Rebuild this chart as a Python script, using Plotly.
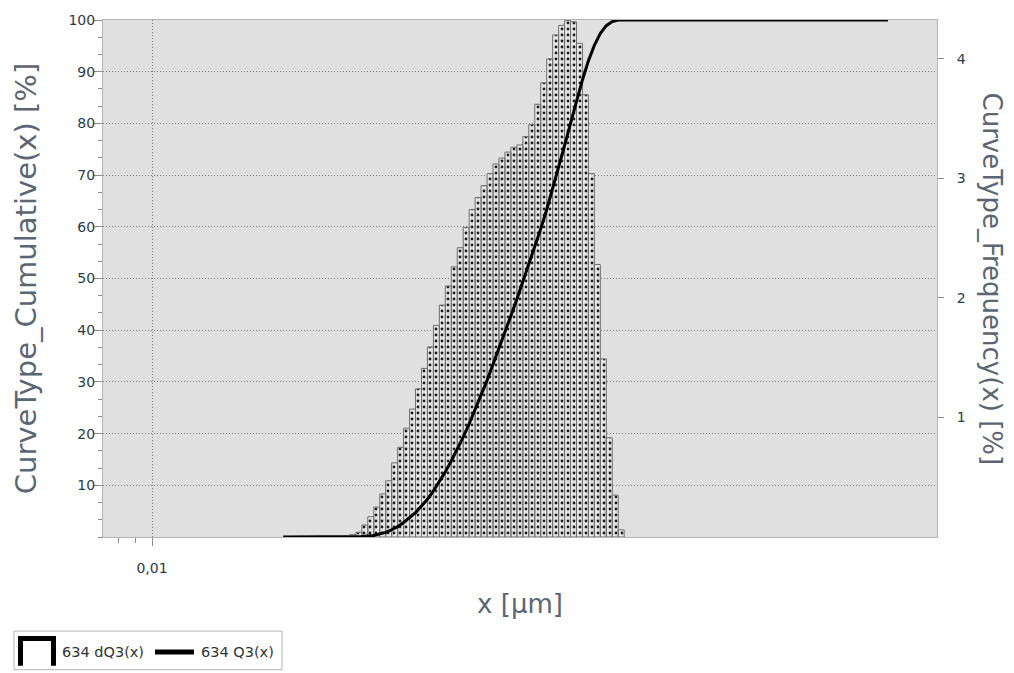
import plotly.graph_objects as go

# ---------------- data ----------------
# size class edges (µm) of the dQ3 histogram
bin_edges_um = [0.03678, 0.03825, 0.03978, 0.04137, 0.04303, 0.04475, 0.04654, 0.04840,
                0.05034, 0.05235, 0.05444, 0.05662, 0.05889, 0.06124, 0.06369, 0.06624,
                0.06889, 0.07165, 0.07451, 0.07749, 0.08059, 0.08382, 0.08717, 0.09065,
                0.09428, 0.09805, 0.10197, 0.10605, 0.11029, 0.11471, 0.11929, 0.12407,
                0.12903, 0.13419, 0.13956, 0.14514, 0.15094, 0.15698, 0.16326, 0.16979,
                0.17658, 0.18365, 0.19099, 0.19863, 0.20658, 0.21484, 0.22344]

# dQ3 frequency per class (%)
dq3_percent = [0.02, 0.04, 0.10, 0.17, 0.25, 0.36, 0.47, 0.62, 0.75, 0.91,
               1.07, 1.24, 1.41, 1.59, 1.77, 1.94, 2.10, 2.26, 2.42, 2.59,
               2.74, 2.84, 2.94, 3.04, 3.12, 3.17, 3.22, 3.26, 3.28, 3.35,
               3.45, 3.62, 3.80, 4.00, 4.20, 4.28, 4.32, 4.31, 4.13, 3.70,
               3.04, 2.28, 1.49, 0.83, 0.35, 0.06]

# Q3 cumulative curve (%)
q3_size_um = [0.0237] + bin_edges_um + [1.267]
q3_percent = [0, 0, 0, 0.1, 0.2, 0.3, 0.6, 0.9, 1.4, 2.0, 2.8, 3.7, 4.7, 6.0, 7.3, 8.9,
              10.7, 12.6, 14.7, 16.9, 19.3, 21.9, 24.6, 27.4, 30.3, 33.4, 36.4, 39.6,
              42.8, 46.0, 49.3, 52.6, 56.0, 59.6, 63.3, 67.3, 71.5, 75.7, 80.0, 84.3,
              88.4, 92.1, 95.1, 97.4, 98.9, 99.7, 100, 100, 100]

cum_ticks = [10, 20, 30, 40, 50, 60, 70, 80, 90, 100]
freq_ticks = [1, 2, 3, 4]
series_names = ["634 dQ3(x)", "634 Q3(x)"]

# ---------------- figure ----------------
W, H = 1014, 673
ML, MR, MT, MB = 103, 77, 15, 136
PW, PH = W - ML - MR, H - MT - MB


def px2x(px):
    return (px - ML) / PW


def py2y(py):
    return (H - MB - py) / PH


bx, by = [], []
for i, v in enumerate(dq3_percent):
    a, b = bin_edges_um[i], bin_edges_um[i + 1]
    bx += [a, a, b, b, a, None]
    by += [0, v, v, 0, 0, None]

fig = go.Figure()
fig.add_trace(go.Scatter(
    x=bx, y=by, mode="lines", fill="toself", yaxis="y",
    line=dict(color="#6e6e6e", width=1),
    fillcolor="#e6e6e6",
    fillpattern=dict(shape=".", size=6, solidity=0.17, fgcolor="#1a1a1a",
                     bgcolor="#e6e6e6", fillmode="replace"),
    name=series_names[0], showlegend=False, hoverinfo="skip", connectgaps=False,
))
fig.add_trace(go.Scatter(
    x=q3_size_um, y=q3_percent, mode="lines", yaxis="y2",
    line=dict(color="black", width=3),
    name=series_names[1], showlegend=False,
))

grid_col = "#7c7c7c"
tick_col = "#8c8c8c"
frame_col = "#b4b4b4"
title_col = "#5b6672"

fig.update_layout(
    width=W, height=H, autosize=False,
    margin=dict(l=ML, r=MR, t=MT, b=MB),
    paper_bgcolor="white", plot_bgcolor="#e0e0e0",
    showlegend=False,
    font=dict(family="DejaVu Sans", size=14, color="#2e3b4a"),
    xaxis=dict(
        type="log", range=[-2.14, 0.243],
        tickmode="array", tickvals=[0.01], ticktext=["0,01"],
        ticks="outside", ticklen=8, tickcolor=tick_col, ticklabelstandoff=10,
        showgrid=True, gridcolor=grid_col, griddash="1px,2px", gridwidth=1,
        showline=True, linecolor=frame_col, mirror=True, zeroline=False,
        minor=dict(tickmode="array", tickvals=[0.008, 0.009], ticks="outside",
                   ticklen=5, tickcolor=tick_col, showgrid=False),
        title=dict(text="x [µm]",
                   font=dict(family="DejaVu Sans", size=26, color=title_col),
                   standoff=20),
    ),
    yaxis=dict(
        range=[0, 4.325], side="right",
        tickmode="array", tickvals=freq_ticks,
        ticks="outside", ticklen=6, tickcolor=tick_col, ticklabelstandoff=10,
        showgrid=False, zeroline=False,
        showline=True, linecolor=frame_col,
    ),
    yaxis2=dict(
        overlaying="y", side="left", range=[0, 100],
        tickmode="array", tickvals=cum_ticks,
        ticks="outside", ticklen=8, tickcolor=tick_col, ticklabelstandoff=-4,
        showgrid=True, gridcolor=grid_col, griddash="1px,2px", gridwidth=1,
        showline=True, linecolor=frame_col, zeroline=False,
        minor=dict(tick0=0, dtick=10 / 3, ticks="outside", ticklen=4,
                   tickcolor=tick_col, showgrid=False),
        title=dict(text="CurveType_Cumulative(x) [%]",
                   font=dict(family="DejaVu Sans", size=29, color=title_col),
                   standoff=23),
    ),
)

# right axis title (reads top-to-bottom)
fig.add_annotation(
    text="CurveType_Frequency(x) [%]", textangle=90,
    xref="paper", yref="paper", x=px2x(992), y=0.5,
    xanchor="center", yanchor="middle", showarrow=False,
    font=dict(family="DejaVu Sans", size=26, color=title_col),
)

# legend box
fig.add_shape(type="rect", xref="paper", yref="paper",
              x0=px2x(14), x1=px2x(282), y0=py2y(632), y1=py2y(671),
              line=dict(color="#b4b4b4", width=1), fillcolor="white", layer="above")
fig.add_shape(type="path", xref="paper", yref="paper",
              path=(f"M {px2x(20.5)},{py2y(667)} L {px2x(20.5)},{py2y(639.5)} "
                    f"L {px2x(53.5)},{py2y(639.5)} L {px2x(53.5)},{py2y(667)}"),
              line=dict(color="black", width=5), layer="above")
fig.add_shape(type="line", xref="paper", yref="paper",
              x0=px2x(155), x1=px2x(194), y0=py2y(653), y1=py2y(653),
              line=dict(color="black", width=5), layer="above")
legend_font = dict(family="DejaVu Sans", size=14.5, color="#333333")
fig.add_annotation(text=series_names[0], xref="paper", yref="paper",
                   x=px2x(60), y=py2y(653), xanchor="left", yanchor="middle",
                   showarrow=False, font=legend_font)
fig.add_annotation(text=series_names[1], xref="paper", yref="paper",
                   x=px2x(199), y=py2y(653), xanchor="left", yanchor="middle",
                   showarrow=False, font=legend_font)

fig.write_html(
    "out.html",
    config={"displayModeBar": False},
    post_script="document.body.style.margin='0';document.body.style.overflow='hidden';",
)
